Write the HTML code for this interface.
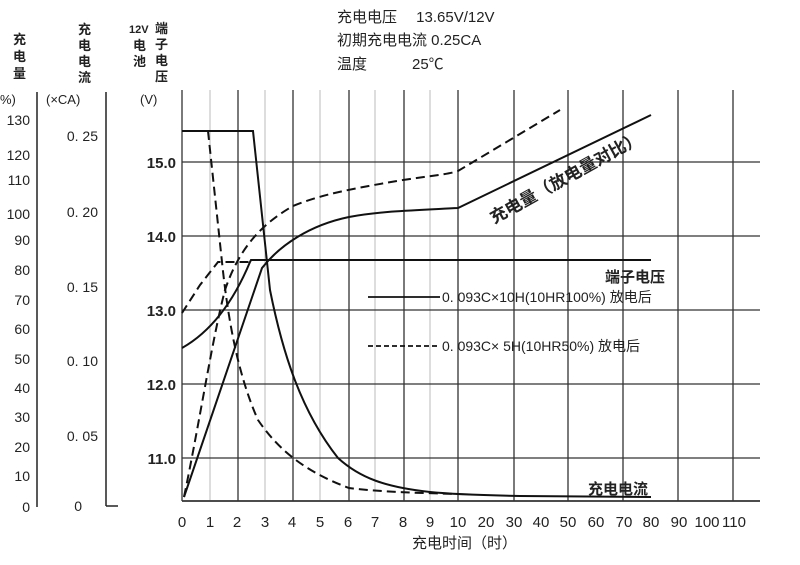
<!DOCTYPE html>
<html><head><meta charset="utf-8"><style>
html,body{margin:0;padding:0;background:#fff}
svg{display:block}
text{font-family:"Liberation Sans","Noto Sans CJK SC",sans-serif;fill:#222}
</style></head><body>
<svg width="800" height="565" viewBox="0 0 800 565" xmlns="http://www.w3.org/2000/svg">
<g font-size="15">
<text x="337" y="22">充电电压　 13.65V/12V</text>
<text x="337" y="45">初期充电电流 0.25CA</text>
<text x="337" y="69">温度　　　25℃</text>
</g>
<g font-size="13" font-weight="bold">
<text x="13" y="44">充</text><text x="13" y="61">电</text><text x="13" y="78">量</text>
<text x="78" y="34">充</text><text x="78" y="50">电</text><text x="78" y="66">电</text><text x="78" y="82">流</text>
<text x="155" y="33">端</text><text x="155" y="49">子</text><text x="155" y="65">电</text><text x="155" y="81">压</text>
<text x="133" y="50">电</text><text x="133" y="66">池</text>
</g>
<text x="129" y="33" font-size="11" font-weight="bold">12V</text>
<text x="0" y="104" font-size="13">%)</text>
<text x="46" y="104" font-size="13">(×CA)</text>
<text x="140" y="104" font-size="13">(V)</text>
<g stroke="#222" stroke-width="1.5"><line x1="37" y1="92" x2="37" y2="507"/>
<line x1="106" y1="92" x2="106" y2="506"/><line x1="106" y1="506" x2="118" y2="506"/></g>
<g font-size="14" text-anchor="end">
<text x="30" y="125">130</text><text x="30" y="160">120</text><text x="30" y="185">110</text>
<text x="30" y="219">100</text><text x="30" y="245">90</text><text x="30" y="275">80</text>
<text x="30" y="305">70</text><text x="30" y="334">60</text><text x="30" y="364">50</text>
<text x="30" y="393">40</text><text x="30" y="422">30</text><text x="30" y="452">20</text>
<text x="30" y="481">10</text><text x="30" y="512">0</text>
<text x="98" y="141">0. 25</text><text x="98" y="217">0. 20</text><text x="98" y="292">0. 15</text>
<text x="98" y="366">0. 10</text><text x="98" y="441">0. 05</text><text x="82" y="511">0</text>
</g>
<g font-size="15" text-anchor="end" font-weight="bold">
<text x="176" y="168">15.0</text><text x="176" y="242">14.0</text><text x="176" y="316">13.0</text>
<text x="176" y="390">12.0</text><text x="176" y="464">11.0</text>
</g>
<g stroke="#bbb" stroke-width="1">
<line x1="210" y1="90" x2="210" y2="500"/><line x1="265" y1="90" x2="265" y2="500"/>
<line x1="320" y1="90" x2="320" y2="500"/><line x1="375" y1="90" x2="375" y2="500"/>
<line x1="430" y1="90" x2="430" y2="500"/>
</g>
<g stroke="#333" stroke-width="1.3">
<line x1="182" y1="90" x2="182" y2="501"/>
<line x1="238" y1="90" x2="238" y2="501"/><line x1="293" y1="90" x2="293" y2="501"/>
<line x1="349" y1="90" x2="349" y2="501"/><line x1="404" y1="90" x2="404" y2="501"/>
<line x1="458" y1="90" x2="458" y2="501"/><line x1="514" y1="90" x2="514" y2="501"/>
<line x1="568" y1="90" x2="568" y2="501"/><line x1="623" y1="90" x2="623" y2="501"/>
<line x1="678" y1="90" x2="678" y2="501"/><line x1="733" y1="90" x2="733" y2="501"/>
<line x1="182" y1="162" x2="760" y2="162"/><line x1="182" y1="236" x2="760" y2="236"/>
<line x1="182" y1="310" x2="760" y2="310"/><line x1="182" y1="384" x2="760" y2="384"/>
<line x1="182" y1="458" x2="760" y2="458"/>
<line x1="182" y1="501" x2="760" y2="501" stroke-width="1.8"/>
</g>
<g font-size="15" text-anchor="middle">
<text x="182" y="527">0</text><text x="210" y="527">1</text><text x="237" y="527">2</text>
<text x="265" y="527">3</text><text x="292" y="527">4</text><text x="320" y="527">5</text>
<text x="348" y="527">6</text><text x="375" y="527">7</text><text x="403" y="527">8</text>
<text x="430" y="527">9</text><text x="458" y="527">10</text><text x="486" y="527">20</text>
<text x="514" y="527">30</text><text x="541" y="527">40</text><text x="568" y="527">50</text>
<text x="596" y="527">60</text><text x="624" y="527">70</text><text x="651" y="527">80</text>
<text x="679" y="527">90</text><text x="707" y="527">100</text><text x="734" y="527">110</text>
</g>
<text x="412" y="548" font-size="15">充电时间（时）</text>
<g fill="none" stroke="#111" stroke-width="2">
<path d="M182,131 L253,131 L270,290 C282,350 300,410 338,458 C360,478 385,487 430,492 C450,494 470,495 520,496 L651,497"/>
<path d="M182,348 C205,335 230,310 250,262 L251,260 L651,260"/>
<path d="M184,497 L262,268 C280,245 310,225 349,217 C380,211 420,210 458,208 L651,115"/>
</g>
<g fill="none" stroke="#111" stroke-width="2" stroke-dasharray="9,5">
<path d="M208,131 L222,262 C228,320 238,375 258,420 C275,445 300,470 349,488 C380,492 420,493 458,494"/>
<polyline points="182,313 200,285 218,262 250,262"/>
<path d="M184,497 C200,420 212,340 225,290 C240,245 265,222 293,206 C320,195 349,189 403,180 C430,176 450,174 458,171 L560,110"/>
</g>
<line x1="368" y1="297" x2="440" y2="297" stroke="#111" stroke-width="1.8"/>
<text x="442" y="302" font-size="14">0. 093C×10H(10HR100%) 放电后</text>
<line x1="368" y1="346" x2="440" y2="346" stroke="#111" stroke-width="1.8" stroke-dasharray="5,3"/>
<text x="442" y="351" font-size="14">0. 093C× 5H(10HR50%) 放电后</text>
<text x="605" y="282" font-size="15" font-weight="bold">端子电压</text>
<text x="588" y="494" font-size="15" font-weight="bold">充电电流</text>
<text x="0" y="0" font-size="17" font-weight="bold" transform="translate(494,224) rotate(-29)">充电量（放电量对比）</text>
</svg>
</body></html>
